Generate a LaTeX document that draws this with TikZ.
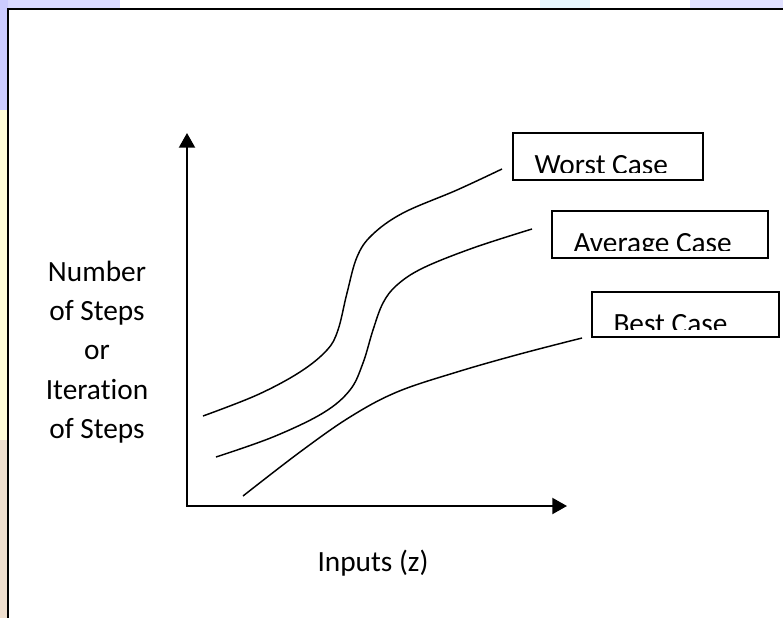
\documentclass[tikz,border=0pt]{standalone}
\usepackage{fontspec}
\setmainfont[Ligatures=NoCommon]{Carlito}
\usetikzlibrary{arrows.meta}

\begin{document}
\begin{tikzpicture}
[x=0.75pt,y=-0.75pt,
  axisDecorate/.style={{Triangle[length=11pt,width=12pt]}-{Triangle[length=11pt,width=12pt]},line width=1.5pt},%
  curveDecorate/.style={line width=1.1pt},%
  caseDecorate/.style={shape=rectangle,inner sep=0pt,draw,line width=1.1pt},%
  caseText/.style={anchor=base west,inner sep=0pt,font=\fontsize{22}{26}\selectfont},%
  labelDecorate/.style={align=center,inner sep=0pt,font=\fontsize{22}{29.5}\selectfont}]
%% page and background
\clip (0,0) rectangle (783,618);
\fill[white] (0,0) rectangle (783,618);
\fill[blue!15] (0,0) rectangle (120,9);
\fill[cyan!10] (540,0) rectangle (590,9);
\fill[blue!12] (690,0) rectangle (783,9);
\fill[blue!20] (0,0) rectangle (8,110);
\fill[yellow!15] (0,110) rectangle (8,440);
\fill[brown!25] (0,440) rectangle (8,618);
\draw[line width=1.5pt] (8,9) rectangle (800,640);
%% axes
\coordinate (origin) at (187,506);
\coordinate (yTop) at (187,133);
\coordinate (xEnd) at (567,506);
\draw[axisDecorate] (yTop) -- (origin) -- (xEnd);
%% curves
\draw[curveDecorate] plot[smooth,tension=0.6] coordinates {(203,416) (257,395) (300,372) (327,350) (338,330) (347,293) (357,257) (372,235) (403,213) (457,190) (502,169)};
\draw[curveDecorate] plot[smooth,tension=0.6] coordinates {(216,457) (273,437) (323,413) (350,390) (363,363) (373,330) (383,303) (397,285) (423,268) (473,248) (532,229)};
\draw[curveDecorate] plot[smooth,tension=0.6] coordinates {(243,496) (300,452) (350,417) (397,392) (457,372) (520,354) (582,338)};
%% case boxes
\foreach \nodename/\txt/\x/\y/\w/\h in {worst/Worst Case/608/156.5/190/47, average/Average Case/660/234.5/216/47, best/Best Case/685.5/314.5/187/45}
{
  \node (\nodename) at (\x,\y) [caseDecorate,minimum width=\w*0.75pt,minimum height=\h*0.75pt] {};
  \begin{scope}
    \clip (\nodename.north west) rectangle ([yshift=6.4pt]\nodename.south east);
    \node (\nodename Text) at ([xshift=16.5pt,yshift=-32pt]\nodename.north west) [caseText] {\txt};
  \end{scope}
}
%% axis labels
\node (stepsLabel) at (97,352) [labelDecorate] {Number\\of Steps\\or\\Iteration\\of Steps};
\node (inputsLabel) at (373,571) [anchor=base,inner sep=0pt,font=\fontsize{22}{26}\selectfont] {Inputs (z)};
\end{tikzpicture}
\end{document}
